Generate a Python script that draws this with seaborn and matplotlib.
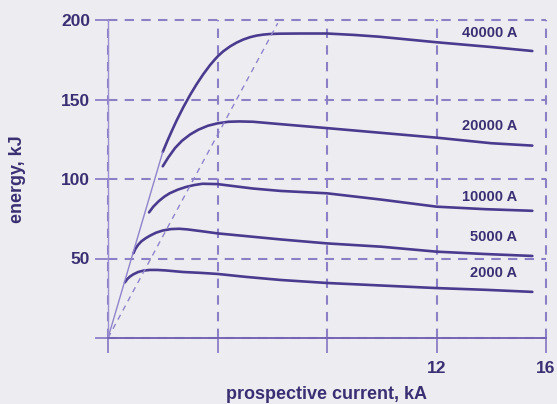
import numpy as np
import pandas as pd
import matplotlib
matplotlib.use("Agg")
import matplotlib.pyplot as plt
import seaborn as sns

# Let-through energy versus prospective current, one curve per fuse rating
series_names = ["40000 A", "20000 A", "10000 A", "5000 A", "2000 A"]

current_40000 = [2.0, 2.17, 2.33, 2.51, 2.75, 3.0, 3.24, 3.48, 3.73, 3.91, 4.03, 4.21, 4.46,
                 4.7, 4.94, 5.19, 5.43, 5.67, 5.92, 6.28, 7.0, 8.0, 9.0, 9.9, 12.0, 14.0, 15.5]
energy_40000 = [117, 124, 130.2, 136.9, 145.1, 152.9, 159.7, 165.9, 171.7, 175.3, 177.5, 180.3, 183.4,
                185.8, 187.7, 189.2, 190.2, 190.8, 191.2, 191.4, 191.5, 191.5, 190.6, 189.5, 186, 183, 180.5]

current_20000 = [2.0, 2.2, 2.45, 2.7, 3.0, 3.3, 3.65, 4.0, 4.4, 4.8, 5.3, 6.3, 8.0, 10.0, 12.0, 14.0, 15.5]
energy_20000 = [108, 113.5, 119.5, 124, 128, 131, 133.5, 135, 136, 136.2, 136, 134.5, 132, 129, 126, 122.5, 121]

current_10000 = [1.5, 1.65, 1.85, 2.05, 2.25, 2.55, 2.85, 3.15, 3.45, 4.0, 4.6, 5.3, 6.3,
                 8.0, 10.0, 12.0, 13.8, 15.5]
energy_10000 = [79, 82.5, 86, 88.8, 91, 93.3, 95, 96.2, 97, 96.8, 95.5, 94, 92.5,
                91, 87, 82.6, 81, 80]

current_5000 = [0.93, 1.0, 1.1, 1.22, 1.38, 1.55, 1.75, 2.0, 2.3, 2.6, 2.9, 3.4, 4.0,
                6.3, 8.0, 10.0, 12.0, 13.8, 15.5]
energy_5000 = [53.3, 56, 58.6, 60.8, 62.8, 64.5, 66.2, 67.6, 68.5, 68.7, 68.3, 67.2, 65.8,
               62, 59.5, 57.4, 54.3, 52.8, 51.6]

current_2000 = [0.62, 0.7, 0.8, 0.92, 1.1, 1.3, 1.53, 1.8, 2.1, 2.75, 3.35, 4.0, 5.0, 6.3,
                8.0, 10.0, 12.0, 13.8, 15.5]
energy_2000 = [35, 37, 38.6, 40, 41.5, 42.4, 42.8, 42.8, 42.5, 41.5, 41, 40.3, 38.5, 36.5,
               34.6, 33, 31.4, 30.3, 29]

# Guide lines from the origin: steep envelope and the locus of the peaks
envelope_current = [0.0, 2.0]
envelope_energy = [0.0, 117.0]
peak_current = [0.0, 6.2]
peak_energy = [0.0, 198.0]

# Label positions for each curve (kA, kJ)
label_current = [13.95, 13.95, 13.95, 14.1, 14.1]
label_energy = [191.8, 133.3, 88.7, 63.5, 40.9]

x_ticks = [0, 4, 8, 12, 16]
x_tick_labels = ["", "", "", "12", "16"]
y_ticks = [0, 50, 100, 150, 200]
y_tick_labels = ["", "50", "100", "150", "200"]

curves = pd.concat([
    pd.DataFrame({"current": c, "energy": e, "series": n})
    for n, c, e in zip(series_names,
                       [current_40000, current_20000, current_10000, current_5000, current_2000],
                       [energy_40000, energy_20000, energy_10000, energy_5000, energy_2000])
], ignore_index=True)

sns.set_theme(style="white")
bg = "#ededf1"
curve_col = "#4a3b8f"
grid_col = "#8d7fc6"
text_col = "#3a2f72"
plt.rcParams["font.family"] = ["Liberation Sans", "DejaVu Sans"]

fig = plt.figure(figsize=(5.57, 4.04), dpi=100, facecolor=bg)
ax = fig.add_axes([108 / 557, 66 / 404, 438 / 557, 318 / 404])
ax.set_facecolor(bg)

sns.lineplot(data=curves, x="current", y="energy", hue="series",
             palette={n: curve_col for n in series_names}, sort=False,
             estimator=None, legend=False, linewidth=1.9, ax=ax,
             solid_capstyle="round", solid_joinstyle="round")

sns.lineplot(x=envelope_current, y=envelope_energy, color="#9083cb",
             linewidth=1.0, sort=False, estimator=None, ax=ax)
sns.lineplot(x=peak_current, y=peak_energy, color="#9083cb",
             linewidth=1.0, linestyle=(0, (4, 3.5)), sort=False, estimator=None, ax=ax)

for name, lx, ly in zip(series_names, label_current, label_energy):
    ax.text(lx, ly, name, ha="center", va="center", fontsize=10.5,
            fontweight="bold", color=text_col)

ax.set_xlim(0, 16)
ax.set_ylim(0, 200)
ax.set_xticks(x_ticks, labels=x_tick_labels)
ax.set_yticks(y_ticks, labels=y_tick_labels)
ax.grid(True, color=grid_col, linestyle=(0, (4.5, 3.5)), linewidth=1.5)
for gl in ax.get_xgridlines() + ax.get_ygridlines():
    gl.set_clip_on(False)
ax.set_axisbelow(True)

ax.tick_params(axis="y", length=9.5, width=1.3, color=grid_col, pad=3.5,
               labelsize=12.5, labelcolor=text_col, left=True)
ax.tick_params(axis="x", length=11, width=1.3, color=grid_col, pad=5.5,
               labelsize=12.5, labelcolor=text_col, bottom=True)
for lab in ax.get_xticklabels() + ax.get_yticklabels():
    lab.set_fontweight("bold")

for side in ["top", "right"]:
    ax.spines[side].set_visible(False)
ax.spines["left"].set_color("#9a8dd0")
ax.spines["left"].set_linewidth(1.0)
ax.spines["bottom"].set_color("#7565b4")
ax.spines["bottom"].set_linewidth(1.4)

ax.set_xlabel("prospective current, kA", fontsize=13, fontweight="bold", color=text_col)
ax.xaxis.set_label_coords(0.5, -0.152)
ax.set_ylabel("energy, kJ", fontsize=13, fontweight="bold", color=text_col)
ax.yaxis.set_label_coords(-0.187, 0.5)

fig.savefig("out.png", dpi=100, facecolor=bg)
